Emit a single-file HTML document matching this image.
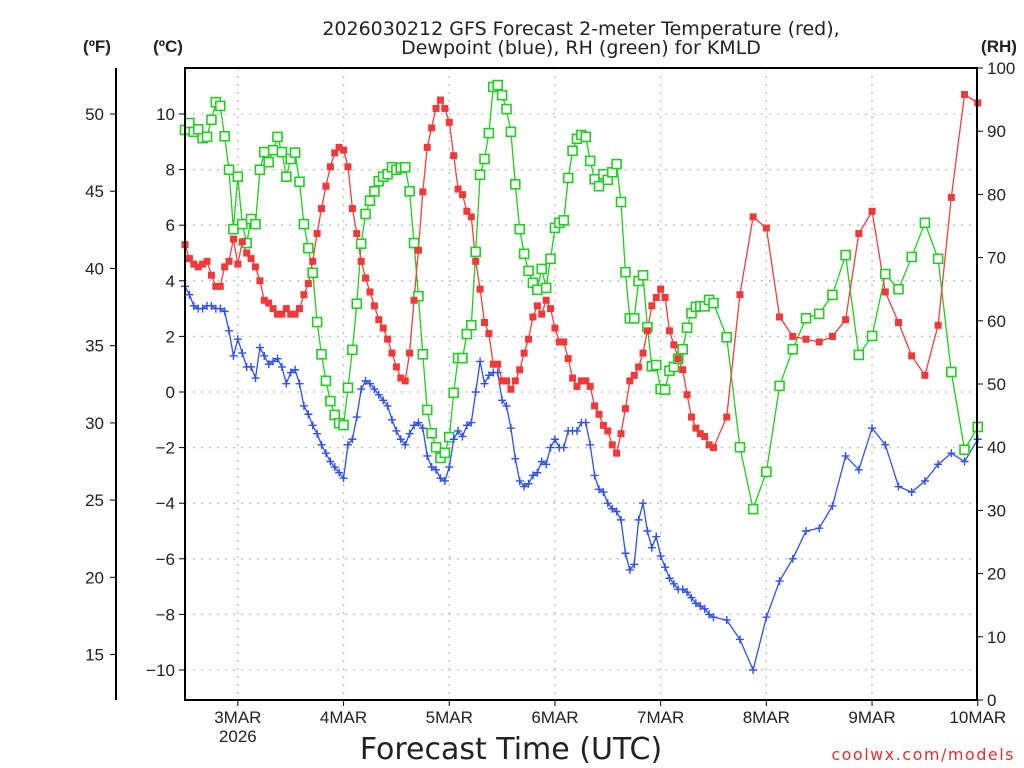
<!DOCTYPE html>
<html><head><meta charset="utf-8"><style>
html,body{margin:0;padding:0;background:#fff;}
svg{display:block;}
text{font-family:"Liberation Sans","DejaVu Sans",sans-serif;fill:#222;}
</style></head><body>
<svg id="chart" width="1024" height="768" viewBox="0 0 1024 768" xmlns="http://www.w3.org/2000/svg">
<g id="grid"></g>
<g id="series"></g>
<rect x="185" y="68" width="792" height="632" fill="none" stroke="#000" stroke-width="2"/>
<line x1="116" y1="68" x2="116" y2="700" stroke="#000" stroke-width="2"/>
<g id="axes"></g>
<text x="581" y="35" text-anchor="middle" font-size="19" style="font-family:'DejaVu Sans',sans-serif">2026030212 GFS Forecast 2-meter Temperature (red),</text>
<text x="581" y="54" text-anchor="middle" font-size="19" style="font-family:'DejaVu Sans',sans-serif">Dewpoint (blue), RH (green) for KMLD</text>
<text x="97" y="52" text-anchor="middle" font-size="17" font-weight="bold">(ºF)</text>
<text x="168" y="52" text-anchor="middle" font-size="17" font-weight="bold">(ºC)</text>
<text x="999" y="52" text-anchor="middle" font-size="17" font-weight="bold">(RH)</text>
<text x="511" y="759" text-anchor="middle" font-size="30" style="font-family:'DejaVu Sans',sans-serif">Forecast Time (UTC)</text>
<text x="1015" y="760" text-anchor="end" font-size="16" letter-spacing="1.5" style="fill:#e03030;font-family:'DejaVu Sans',sans-serif">coolwx.com/models</text>
</svg>
<script>
const tempC = [5.3,4.8,4.6,4.5,4.6,4.7,4.2,3.8,3.8,4.5,4.7,5.5,4.6,5.4,5.0,4.8,4.5,4.0,3.3,3.2,3.0,2.8,2.8,3.0,2.8,2.8,3.0,3.5,3.9,4.7,5.7,6.6,7.4,8.1,8.6,8.8,8.7,8.1,6.6,5.7,4.7,4.1,3.6,3.1,2.6,2.3,1.9,1.4,0.9,0.5,0.4,1.4,3.3,5.1,7.2,8.8,9.5,10.2,10.5,10.2,9.7,8.5,7.3,7.1,6.5,6.3,4.7,3.7,2.5,2.1,1.0,1.0,0.4,0.4,0.1,0.4,0.8,1.4,1.9,2.7,3.1,2.8,3.3,3.0,2.3,1.8,1.8,1.2,0.5,0.2,0.4,0.4,0.2,-0.5,-0.8,-1.2,-1.4,-1.9,-2.2,-1.5,-0.6,0.4,0.6,0.9,1.4,2.2,3.1,3.4,3.7,3.4,2.2,1.7,1.2,0.8,-0.1,-0.9,-1.3,-1.5,-1.6,-1.9,-2.0,
-0.9,3.5,6.3,5.9,2.7,2.0,1.9,1.8,2.0,2.6,5.7,6.5,3.6,2.5,1.3,0.6,2.4,7.0,10.7,10.4];
const dewC = [3.8,3.5,3.1,3.0,3.0,3.1,3.1,3.0,3.0,2.9,2.2,1.3,1.9,1.4,0.9,0.9,0.5,1.6,1.3,1.0,1.1,1.2,0.9,0.3,0.7,0.8,0.3,-0.5,-0.8,-1.2,-1.5,-1.9,-2.2,-2.5,-2.7,-2.9,-3.1,-1.9,-1.7,-0.9,0.1,0.4,0.3,0.1,-0.1,-0.3,-0.5,-1.0,-1.4,-1.7,-1.9,-1.5,-1.2,-1.1,-1.3,-2.3,-2.7,-2.8,-3.1,-3.2,-2.7,-1.7,-1.4,-1.6,-1.2,-1.1,-0.0,1.1,0.3,0.6,0.7,0.7,-0.3,-0.5,-1.3,-2.4,-3.2,-3.4,-3.3,-3.0,-2.9,-2.5,-2.6,-2.0,-1.7,-2.0,-2.0,-1.4,-1.4,-1.4,-1.1,-1.1,-1.9,-3.0,-3.5,-3.6,-4.0,-4.2,-4.3,-4.6,-5.8,-6.4,-6.2,-4.6,-4.0,-5.0,-5.6,-5.2,-5.9,-6.3,-6.7,-6.9,-7.1,-7.1,-7.2,-7.4,-7.6,-7.7,-7.8,-8.0,-8.1,
-8.2,-8.9,-10.0,-8.1,-6.8,-6.0,-5.0,-4.9,-4.1,-2.3,-2.8,-1.3,-1.9,-3.4,-3.6,-3.2,-2.6,-2.2,-2.5,-1.7];
const rhPct = [90.2,91.3,89.9,90.3,88.9,89.1,91.8,94.6,94.0,89.2,83.9,74.5,82.8,75.3,72.3,76.1,75.3,83.9,86.7,85.1,87.0,89.1,86.7,82.8,85.6,86.6,82.0,75.3,71.5,67.6,59.8,54.7,50.5,47.3,45.1,43.8,43.5,49.4,55.4,62.7,72.2,76.9,79.0,80.5,82.1,82.8,83.2,84.3,83.9,84.2,84.3,80.5,72.3,63.9,54.7,45.9,42.2,40.0,38.3,39.1,41.6,48.6,54.1,54.1,57.9,59.3,70.9,83.1,85.6,89.7,97.0,97.3,95.7,93.5,89.9,81.6,74.5,70.6,67.9,66.0,64.9,68.2,65.2,69.8,74.7,75.5,75.9,82.6,86.9,88.8,89.4,89.1,85.3,82.4,81.3,83.2,82.3,83.5,84.8,78.8,67.7,60.4,60.4,66.3,67.2,59.0,52.8,53.0,49.2,49.1,52.1,52.7,54.0,55.5,58.9,61.2,62.2,62.3,62.3,63.3,62.8,
57.4,40.0,30.2,36.1,49.7,55.5,60.4,61.1,64.1,70.4,54.6,57.6,67.4,65.0,70.1,75.5,69.8,51.9,39.6,43.2];
const dayLabels = ["3MAR","4MAR","5MAR","6MAR","7MAR","8MAR","9MAR","10MAR"];
const cTicks = [-10,-8,-6,-4,-2,0,2,4,6,8,10];
const fTicks = [15,20,25,30,35,40,45,50];
const rhTicks = [0,10,20,30,40,50,60,70,80,90,100];

const NS="http://www.w3.org/2000/svg";
const X0=185, PXH=105.7/24;
function hourAt(i){return i<=120?i:120+(i-120)*3;}
function xs(h){return X0+h*PXH;}
function yC(c){return 392-c*27.8;}
function yF(f){return yC((f-32)/1.8);}
function yRH(r){return 700-r*6.32;}
function mk(tag,attrs,parent){const e=document.createElementNS(NS,tag);for(const k in attrs)e.setAttribute(k,attrs[k]);parent.appendChild(e);return e;}
const grid=document.getElementById('grid'), axes=document.getElementById('axes'), ser=document.getElementById('series');
cTicks.forEach(c=>{
  const l=mk('line',{x1:185,x2:977,y1:yC(c),y2:yC(c),stroke:'#bbb','stroke-width':1.3,'stroke-dasharray':'2,6'},grid);
  
  
  const t=mk('line',{x1:179,x2:185,y1:yC(c),y2:yC(c),stroke:'#000','stroke-width':1},axes);
  
  
  const tx=mk('text',{x:175,y:yC(c)+6,'text-anchor':'end','font-size':17},axes);
  tx.textContent=(c<0?'\u2212'+(-c):''+c);
  
  
});
fTicks.forEach(f=>{
  const t=mk('line',{x1:110,x2:116,y1:yF(f),y2:yF(f),stroke:'#000','stroke-width':1},axes);
  
  
  const tx=mk('text',{x:104,y:yF(f)+6,'text-anchor':'end','font-size':17},axes);
  tx.textContent=''+f;
  
  
});
rhTicks.forEach(r=>{
  const t=mk('line',{x1:977,x2:983,y1:yRH(r),y2:yRH(r),stroke:'#000','stroke-width':1},axes);
  
  
  const tx=mk('text',{x:987,y:yRH(r)+6,'text-anchor':'start','font-size':17},axes);
  tx.textContent=''+r;
  
  
});
dayLabels.forEach((d,i)=>{
  const x=xs(12+24*i);
  if(i<7){
    const l=mk('line',{x1:x,x2:x,y1:68,y2:700,stroke:'#bbb','stroke-width':1.3,'stroke-dasharray':'2,6'},grid);
    
    
  }
  const t=mk('line',{x1:x,x2:x,y1:700,y2:706,stroke:'#000','stroke-width':1},axes);
  
  
  const tx=mk('text',{x:x,y:723,'text-anchor':'middle','font-size':17},axes);
  tx.textContent=d;
  
  
});
const yr=mk('text',{x:xs(12),y:742,'text-anchor':'middle','font-size':17},axes);
yr.textContent='2026';



function drawLine(vals,yfn,color,name){
  const pts=vals.map((v,i)=>xs(hourAt(i)).toFixed(1)+','+yfn(v).toFixed(1)).join(' ');
  const p=mk('polyline',{points:pts,fill:'none',stroke:color,'stroke-width':1.3},ser);
  
  
}
drawLine(rhPct,yRH,'#22cc22','rh');
drawLine(tempC,yC,'#f04040','temperature');
drawLine(dewC,yC,'#3050f0','dewpoint');
rhPct.forEach((v,i)=>{
  const m=mk('rect',{x:xs(hourAt(i))-4.5,y:yRH(v)-4.5,width:9,height:9,fill:'#fff',stroke:'#22cc22','stroke-width':1.6},ser);
  
  
});
tempC.forEach((v,i)=>{
  const m=mk('rect',{x:xs(hourAt(i))-3.5,y:yC(v)-3.5,width:7,height:7,fill:'#f03a3a'},ser);
  
  
});
dewC.forEach((v,i)=>{
  const x=xs(hourAt(i)), y=yC(v);
  const m=mk('path',{d:`M${x-4},${y}H${x+4}M${x},${y-4}V${y+4}`,stroke:'#3050f0','stroke-width':1.4,fill:'none'},ser);
  
  
});
</script>
</body></html>
